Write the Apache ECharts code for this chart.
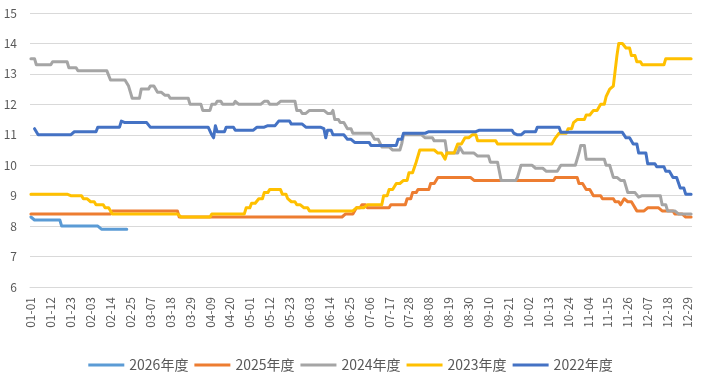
<!DOCTYPE html>
<html>
<head>
<meta charset="utf-8">
<script src="https://cdn.jsdelivr.net/npm/echarts@6/dist/echarts.min.js"></script>
<style>html,body{margin:0;padding:0;background:#fff}#c{width:701px;height:380px}</style>
</head>
<body>
<div id="c"></div>
<script>
// Category axis: days of a leap year (MM-DD)
const monthDays = [31,29,31,30,31,30,31,31,30,31,30,31];
const yTicks = [6,7,8,9,10,11,12,13,14,15];
const seriesNames = ['2026年度','2025年度','2024年度','2023年度','2022年度'];

// Step-change points [date, value] (value holds until next point)
const s2026 = [["01-01",8.3],["01-03",8.2],["01-18",8.0],["02-09",7.9],["02-24",null]];
const s2025 = [["01-01",8.4],["02-15",8.5],["03-23",8.3],["06-23",8.4],["06-29",8.6],["07-02",8.7],["07-05",8.6],
  ["07-18",8.7],["07-27",8.9],["07-30",9.1],["08-02",9.2],["08-09",9.4],["08-13",9.6],["09-02",9.5],["10-17",9.6],
  ["10-30",9.4],["11-03",9.2],["11-07",9.0],["11-12",8.9],["11-19",8.8],["11-22",8.7],["11-24",8.9],["11-26",8.8],
  ["11-29",8.7],["12-01",8.5],["12-07",8.6],["12-15",8.5],["12-22",8.4],["12-28",8.3]];
const s2024 = [["01-01",13.5],["01-04",13.3],["01-13",13.4],["01-22",13.2],["01-27",13.1],["02-14",12.8],["02-24",12.6],
  ["02-25",12.4],["02-26",12.2],["03-02",12.5],["03-07",12.6],["03-11",12.4],["03-15",12.3],["03-18",12.2],["03-29",12.0],
  ["04-05",11.8],["04-10",12.0],["04-13",12.1],["04-16",12.0],["04-23",12.1],["04-25",12.0],["05-09",12.1],["05-12",12.0],
  ["05-18",12.1],["05-27",11.8],["05-30",11.7],["06-03",11.8],["06-13",11.7],["06-16",11.8],["06-17",11.5],["06-20",11.4],
  ["06-24",11.2],["06-27",11.05],["07-09",10.85],["07-13",10.6],["07-19",10.5],["07-24",10.7],["07-25",11.0],["08-06",10.9],
  ["08-11",10.8],["08-18",10.4],["08-25",10.6],["08-27",10.4],["09-04",10.3],["09-11",10.1],["09-17",9.5],["09-26",9.6],
  ["09-28",10.0],["10-06",9.9],["10-12",9.8],["10-20",10.0],["10-30",10.4],["10-31",10.65],["11-03",10.2],["11-14",10.0],
  ["11-18",9.6],["11-22",9.5],["11-26",9.1],["12-02",8.95],["12-04",9.0],["12-15",8.7],["12-18",8.5],["12-24",8.4]];
const s2023 = [["01-01",9.05],["01-22",9.0],["01-30",8.9],["02-03",8.8],["02-06",8.7],["02-11",8.6],["02-15",8.4],
  ["03-24",8.3],["04-10",8.4],["04-29",8.6],["05-02",8.75],["05-06",8.9],["05-09",9.1],["05-12",9.2],["05-19",9.05],
  ["05-22",8.9],["05-24",8.8],["05-27",8.7],["05-31",8.6],["06-03",8.5],["06-29",8.6],["07-05",8.7],["07-14",9.0],
  ["07-17",9.2],["07-21",9.4],["07-25",9.5],["07-28",9.75],["08-01",10.1],["08-03",10.5],["08-13",10.4],["08-17",10.2],
  ["08-18",10.4],["08-24",10.7],["08-28",10.9],["09-01",11.0],["09-04",10.8],["09-15",10.7],["10-17",10.9],["10-19",11.05],
  ["10-24",11.2],["10-27",11.4],["10-29",11.5],["11-03",11.65],["11-07",11.8],["11-11",12.0],["11-14",12.25],["11-16",12.5],
  ["11-18",12.6],["11-19",13.1],["11-20",13.6],["11-21",14.0],["11-25",13.85],["11-28",13.6],["12-01",13.4],["12-04",13.3],
  ["12-17",13.5]];
const s2022 = [["01-03",11.2],["01-05",11.0],["01-25",11.1],["02-07",11.25],["02-20",11.45],["02-22",11.4],["03-07",11.25],
  ["04-10",11.0],["04-11",10.9],["04-12",11.3],["04-13",11.1],["04-18",11.25],["04-23",11.15],["05-05",11.25],["05-10",11.3],
  ["05-17",11.45],["05-24",11.35],["06-01",11.25],["06-10",11.2],["06-12",10.9],["06-13",11.15],["06-16",11.0],["06-24",10.85],
  ["06-28",10.75],["07-07",10.65],["07-22",10.85],["07-25",11.05],["08-07",11.1],["09-04",11.15],["09-24",11.05],["09-25",11.0],
  ["09-30",11.1],["10-07",11.25],["10-20",11.08],["11-25",10.9],["11-29",10.7],["12-02",10.4],["12-07",10.05],["12-12",9.95],
  ["12-17",9.8],["12-21",9.6],["12-25",9.25],["12-28",9.05]];

const colors = ['#5B9BD5','#ED7D31','#A5A5A5','#FFC000','#4472C4'];

const categories = [];
monthDays.forEach((n, m) => {
  for (let d = 1; d <= n; d++) categories.push(String(m + 1).padStart(2, '0') + '-' + String(d).padStart(2, '0'));
});

function expand(points) {
  const out = new Array(categories.length).fill(null);
  for (let i = 0; i < points.length; i++) {
    const a = categories.indexOf(points[i][0]);
    const b = i + 1 < points.length ? categories.indexOf(points[i + 1][0]) : categories.length;
    for (let k = a; k < b; k++) out[k] = points[i][1];
  }
  return out;
}

const raw = [s2026, s2025, s2024, s2023, s2022];
const chart = echarts.init(document.getElementById('c'), null, {renderer: 'canvas'});
const font = '"Noto Sans CJK SC", "Microsoft YaHei", sans-serif';
chart.setOption({
  animation: false,
  backgroundColor: '#ffffff',
  grid: {left: 30, right: 9, top: 13, bottom: 93, outerBoundsMode: 'none'},
  legend: {
    bottom: 3, left: 'center', itemGap: 6, itemWidth: 36, itemHeight: 3, icon: 'rect',
    textStyle: {color: '#595959', fontSize: 14, fontFamily: font},
    data: seriesNames
  },
  xAxis: {
    type: 'category', data: categories, boundaryGap: true,
    axisLine: {show: true, lineStyle: {color: '#d9d9d9', width: 1}},
    axisTick: {show: false},
    axisLabel: {interval: 10, rotate: 90, color: '#595959', fontSize: 12, margin: 10, fontFamily: font}
  },
  yAxis: {
    type: 'value', min: yTicks[0], max: yTicks[yTicks.length - 1], interval: 1,
    axisLine: {show: false}, axisTick: {show: false},
    axisLabel: {color: '#595959', fontSize: 12, margin: 13, fontFamily: font},
    splitLine: {lineStyle: {color: '#d9d9d9', width: 1}}
  },
  series: raw.map((pts, i) => ({
    name: seriesNames[i], type: 'line', data: expand(pts), symbol: 'none', showSymbol: false,
    connectNulls: false, color: colors[i],
    lineStyle: {color: colors[i], width: 3, join: 'round', cap: 'round'}
  }))
});
</script>
</body>
</html>
